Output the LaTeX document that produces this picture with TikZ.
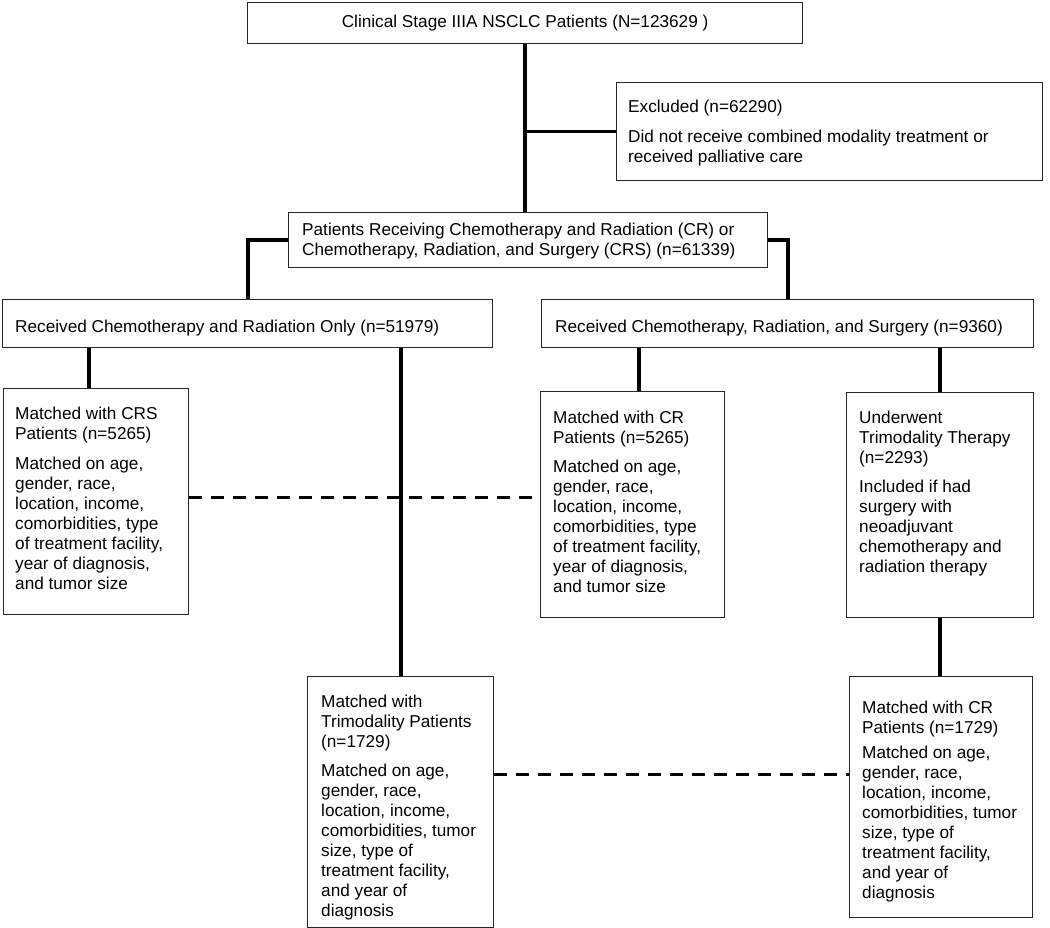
\documentclass[tikz,border=0pt]{standalone}
\usepackage{fontspec}
\setmainfont{Liberation Sans}
\begin{document}
\begin{tikzpicture}[x=1pt,y=-1pt,
  box/.style={draw=black!85, line width=1.2pt, inner sep=0pt, anchor=north west},
  txt/.style={anchor=base west, align=left, inner sep=0pt, font=\fontsize{17.2}{20}\selectfont},
  conn/.style={line width=3.8pt, black},
  matchline/.style={line width=3pt, black, dash pattern=on 13pt off 9pt}]
\fill[white] (0,0) rectangle (1050,928);
\useasboundingbox (0,0) rectangle (1050,928);

% boxes
\node[box, minimum width=555pt, minimum height=41pt, font=\fontsize{17.2}{20}\selectfont] (top) at (247,2) {Clinical Stage IIIA NSCLC Patients (N=123629 )};
\node[box, minimum width=426pt, minimum height=98pt] (excl) at (616,82) {};
\node[box, minimum width=479pt, minimum height=55pt] (mid) at (288,212) {};
\node[box, minimum width=490pt, minimum height=48pt] (left) at (2,299) {};
\node[box, minimum width=492pt, minimum height=48pt] (right) at (541,299) {};
\node[box, minimum width=185pt, minimum height=226pt] (A) at (3,388) {};
\node[box, minimum width=184pt, minimum height=226pt] (B) at (540,391) {};
\node[box, minimum width=187pt, minimum height=225pt] (C) at (846,392) {};
\node[box, minimum width=186pt, minimum height=251pt] (D) at (307,676) {};
\node[box, minimum width=183pt, minimum height=241pt] (E) at (849,676) {};

% texts (anchored at the baseline of their last line)
\node[txt] (texcl) at (628,163) {Excluded (n=62290)\\[10pt]Did not receive combined modality treatment or\\received palliative care};
\node[txt] (tmid) at (302,255) {Patients Receiving Chemotherapy and Radiation (CR) or\\Chemotherapy, Radiation, and Surgery (CRS) (n=61339)};
\node[txt] (tleft) at (15,332) {Received Chemotherapy and Radiation Only (n=51979)};
\node[txt] (tright) at (555,332) {Received Chemotherapy, Radiation, and Surgery (n=9360)};
\node[txt] (tA) at (15,589) {Matched with CRS\\Patients (n=5265)\\[10pt]Matched on age,\\gender, race,\\location, income,\\comorbidities, type\\of treatment facility,\\year of diagnosis,\\and tumor size};
\node[txt] (tB) at (553,592) {Matched with CR\\Patients (n=5265)\\[9pt]Matched on age,\\gender, race,\\location, income,\\comorbidities, type\\of treatment facility,\\year of diagnosis,\\and tumor size};
\node[txt] (tC) at (859,572) {Underwent\\Trimodality Therapy\\(n=2293)\\[9pt]Included if had\\surgery with\\neoadjuvant\\chemotherapy and\\radiation therapy};
\node[txt] (tD) at (321,916) {Matched with\\Trimodality Patients\\(n=1729)\\[9pt]Matched on age,\\gender, race,\\location, income,\\comorbidities, tumor\\size, type of\\treatment facility,\\and year of\\diagnosis};
\node[txt] (tE) at (862,898) {Matched with CR\\Patients (n=1729)\\[5pt]Matched on age,\\gender, race,\\location, income,\\comorbidities, tumor\\size, type of\\treatment facility,\\and year of\\diagnosis};

% connectors
\coordinate (j1) at (top.south |- excl.west);
\draw[conn] (top.south) -- (top.south |- mid.north);
\draw[conn] (j1) -- (excl.west);
\draw[conn] (mid.west) -| (left.north);
\draw[conn] (mid.east) -| (right.north);
\draw[conn] ([xshift=-7.5pt]A.north |- left.south) -- ([xshift=-7.5pt]A.north);
\draw[conn] (D.north |- left.south) -- (D.north);
\draw[conn] ([xshift=6pt]B.north |- right.south) -- ([xshift=6pt]B.north);
\draw[conn] (C.north |- right.south) -- (C.north);
\draw[conn] (C.south) -- (C.south |- E.north);

% matching lines
\draw[matchline] ([yshift=4pt]A.east) -- ([yshift=4pt]A.east -| B.west);
\draw[matchline] ([yshift=27.5pt]D.east) -- ([yshift=27.5pt]D.east -| E.west);
\end{tikzpicture}
\end{document}
